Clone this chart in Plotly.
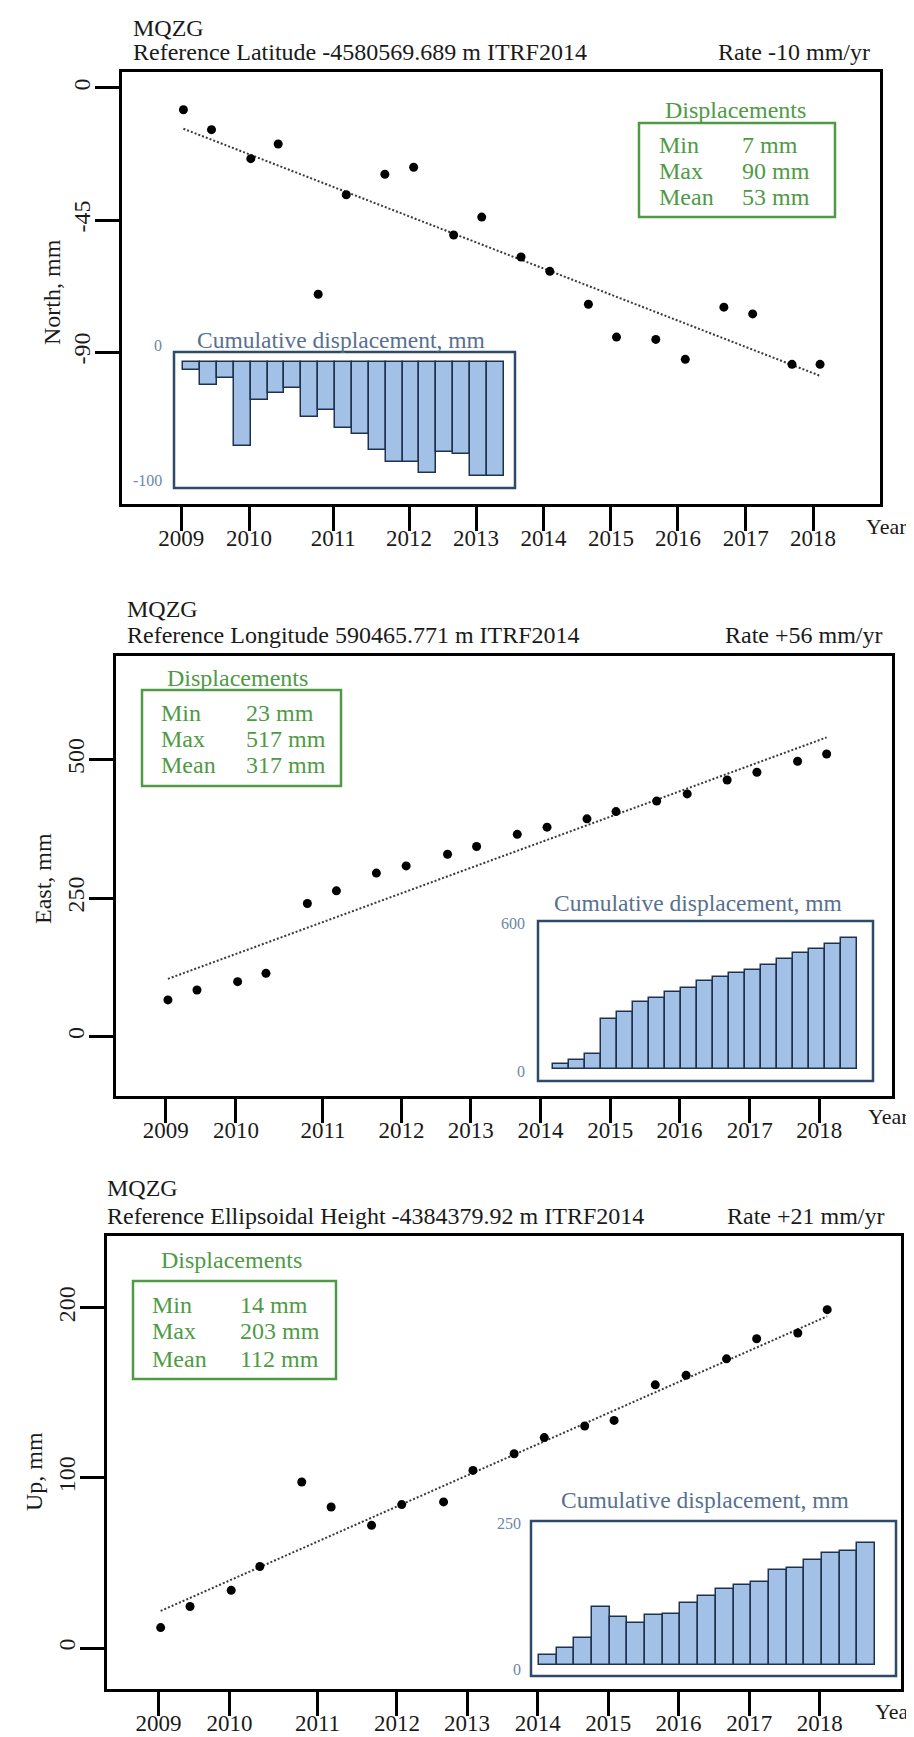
import plotly.graph_objects as go

W, H = 914, 1737
SERIF = "Liberation Serif, Times New Roman, serif"

# ---------------- data ----------------
station = "MQZG"
epochs = [2009.03, 2009.43, 2009.99, 2010.38, 2010.95, 2011.35, 2011.90, 2012.31,
          2012.88, 2013.28, 2013.84, 2014.25, 2014.80, 2015.20, 2015.76, 2016.18,
          2016.73, 2017.14, 2017.70, 2018.10]
tick_years = [2009.0, 2009.966, 2011.165, 2012.245, 2013.20, 2014.16, 2015.12,
              2016.075, 2017.04, 2018.0]
tick_labels = ["2009", "2010", "2011", "2012", "2013", "2014", "2015", "2016", "2017", "2018"]

north = [-7.4, -14.2, -24.1, -19.1, -70.3, -36.4, -29.4, -27.0, -50.1, -44.0,
         -57.6, -62.5, -73.7, -84.9, -85.7, -92.5, -74.7, -77.0, -94.2, -94.2]
east = [66, 84, 99, 114, 240, 263, 295, 308, 329, 343,
        365, 378, 393, 406, 425, 438, 463, 477, 497, 510]
up = [12.0, 24.4, 33.9, 47.9, 97.6, 82.9, 72.1, 84.3, 85.9, 104.4,
      114.2, 123.7, 130.5, 133.8, 154.7, 160.3, 170.0, 181.8, 185.2, 198.9]

trend_north = [-13.9, -98.1]
trend_east = [104, 540]
trend_up = [21.8, 195]

cum_north = [-6.7, -19.1, -13.4, -70.3, -31.7, -26.1, -21.8, -46.2, -40.1, -55.2,
             -60.1, -73.9, -84.2, -84.0, -93.3, -75.6, -77.3, -95.4, -95.4]
cum_east = [17, 35, 58, 203, 231, 272, 288, 311, 328, 356,
            372, 389, 400, 419, 446, 470, 484, 507, 528]
cum_up = [17, 29, 46, 101, 84, 72, 87, 89, 108, 120,
          132, 139, 144, 165, 170, 183, 196, 199, 213]
cum_index = list(range(1, 20))

stat_labels = ["Min", "Max", "Mean"]
stats_north = [7, 90, 53]
stats_east = [23, 517, 317]
stats_up = [14, 203, 112]

ref_text = ["Reference Latitude -4580569.689 m ITRF2014",
            "Reference Longitude 590465.771 m ITRF2014",
            "Reference Ellipsoidal Height -4384379.92 m ITRF2014"]
rate_text = ["Rate -10 mm/yr", "Rate +56 mm/yr", "Rate +21 mm/yr"]
axis_titles = ["North, mm", "East, mm", "Up, mm"]
main_ticks = [[0, -45, -90], [0, 250, 500], [0, 100, 200]]
inset_labels = [["0", "-100"], ["600", "0"], ["250", "0"]]

# ---------------- layout geometry (pixels) ----------------
def fx(x):
    return x / W

def fy(y):
    return 1 - y / H

panels = [
    dict(series=north, trend=trend_north, cum=cum_north, stats=stats_north,
         frame=(114, 872, 64, 496), xr=(2008.155, 2018.954), yr=(-141.8, 5.45),
         title_x=123, title_y=(20, 44), rate_x=864, ytitle=(44, 284),
         leg=dict(box=(631, 827, 115, 209), title=(727, 102), rows=(137, 163, 189), lx=649, vx=732),
         inset=dict(box=(166, 507, 344, 480), xr=(-0.051, 20.17), yr=(-105.9, 8.4),
                    title=(333, 332), lab_x=156, lab_y=(337, 473)),
         year=(878, 518)),
    dict(series=east, trend=trend_east, cum=cum_east, stats=stats_east,
         frame=(108, 884, 648, 1088), xr=(2008.315, 2019.0), yr=(-107.5, 687),
         title_x=117, title_y=(601, 627), rate_x=877, ytitle=(35, 871),
         leg=dict(box=(134, 333, 682, 778), title=(230, 670), rows=(705, 731, 757), lx=151, vx=236),
         inset=dict(box=(530, 865, 913, 1073), xr=(-0.4375, 20.5), yr=(-50.3, 598.7),
                    title=(690, 895), lab_x=519, lab_y=(915, 1063)),
         year=(880, 1108)),
    dict(series=up, trend=trend_up, cum=cum_up, stats=stats_up,
         frame=(99, 893, 1228, 1681), xr=(2008.300, 2019.104), yr=(-24.1, 242.2),
         title_x=97, title_y=(1180, 1208), rate_x=879, ytitle=(26, 1464),
         leg=dict(box=(125, 328, 1273, 1371), title=(223, 1252), rows=(1297, 1323, 1351), lx=142, vx=230),
         inset=dict(box=(523, 888, 1513, 1668), xr=(0.047, 20.69), yr=(-20.1, 251.7),
                    title=(697, 1492), lab_x=515, lab_y=(1515, 1661)),
         year=(887, 1703)),
]

GREEN = "#4f9a45"
INSET_TXT = "#57708f"
INSET_BOX = "#2d4a6a"
BAR_FILL = "#a3c1e6"
BAR_LINE = "#1e324e"

fig = go.Figure()
layout = dict(width=W, height=H, margin=dict(l=0, r=0, t=0, b=0),
              paper_bgcolor="white", plot_bgcolor="white", showlegend=False,
              bargap=0, font=dict(family=SERIF, size=24, color="#1a1a1a"))
annotations = []
shapes = []

for i, p in enumerate(panels):
    mx, my = 2 * i + 1, 2 * i + 1
    ix, iy = 2 * i + 2, 2 * i + 2
    mxs = "x" if mx == 1 else f"x{mx}"
    mys = "y" if my == 1 else f"y{my}"
    ixs, iys = f"x{ix}", f"y{iy}"

    # main scatter + trend
    fig.add_trace(go.Scatter(x=[epochs[0], epochs[-1]], y=p["trend"], mode="lines",
                             line=dict(color="#3a3a3a", width=2, dash="2px,2px"),
                             xaxis=mxs, yaxis=mys, hoverinfo="skip"))
    fig.add_trace(go.Scatter(x=epochs, y=p["series"], mode="markers",
                             marker=dict(color="black", size=9),
                             xaxis=mxs, yaxis=mys))
    # inset bars
    fig.add_trace(go.Bar(x=cum_index, y=p["cum"], width=1,
                         marker=dict(color=BAR_FILL, line=dict(color=BAR_LINE, width=1.5)),
                         xaxis=ixs, yaxis=iys))

    l, r, t, b = p["frame"]
    layout[f"xaxis{'' if mx == 1 else mx}"] = dict(
        domain=[fx(l), fx(r)], range=list(p["xr"]), anchor=mys,
        tickmode="array", tickvals=tick_years, ticktext=tick_labels,
        ticks="outside", ticklen=24, tickwidth=3, tickcolor="black",
        ticklabelstandoff=-13,
        showline=True, mirror=True, linewidth=3, linecolor="black",
        showgrid=False, zeroline=False,
        tickfont=dict(family=SERIF, size=23, color="#1a1a1a"))
    layout[f"yaxis{'' if my == 1 else my}"] = dict(
        domain=[fy(b), fy(t)], range=list(p["yr"]), anchor=mxs,
        tickmode="array", tickvals=main_ticks[i], ticktext=[str(v) for v in main_ticks[i]],
        tickangle=-90,
        ticks="outside", ticklen=24, tickwidth=3, tickcolor="black",
        ticklabelstandoff=-5,
        showline=True, mirror=True, linewidth=3, linecolor="black",
        showgrid=False, zeroline=False,
        tickfont=dict(family=SERIF, size=24, color="#1a1a1a"))

    ins = p["inset"]
    il, ir, it, ib = ins["box"]
    layout[f"xaxis{ix}"] = dict(domain=[fx(il), fx(ir)], range=list(ins["xr"]), anchor=iys,
                                visible=False, fixedrange=True)
    layout[f"yaxis{iy}"] = dict(domain=[fy(ib), fy(it)], range=list(ins["yr"]), anchor=ixs,
                                visible=False, fixedrange=True)
    shapes.append(dict(type="rect", xref="paper", yref="paper",
                       x0=fx(il), x1=fx(ir), y0=fy(ib), y1=fy(it),
                       fillcolor="#f7fafd", line=dict(width=0), layer="below"))
    shapes.append(dict(type="rect", xref="paper", yref="paper",
                       x0=fx(il), x1=fx(ir), y0=fy(ib), y1=fy(it),
                       line=dict(color=INSET_BOX, width=2.5), layer="above"))
    annotations.append(dict(text="Cumulative displacement, mm", x=fx(ins["title"][0]), y=fy(ins["title"][1]),
                            xref="paper", yref="paper", xanchor="center", yanchor="middle", showarrow=False,
                            font=dict(family=SERIF, size=23.5, color=INSET_TXT)))
    for lab, yy in zip(inset_labels[i], ins["lab_y"]):
        annotations.append(dict(text=lab, x=fx(ins["lab_x"]), y=fy(yy), xref="paper", yref="paper",
                                xanchor="right", yanchor="middle", showarrow=False,
                                font=dict(family=SERIF, size=16, color="#6d86a6")))

    # headers
    annotations.append(dict(text=station, x=fx(p["title_x"]), y=fy(p["title_y"][0]), xref="paper", yref="paper",
                            xanchor="left", yanchor="middle", showarrow=False, font=dict(size=24)))
    annotations.append(dict(text=ref_text[i], x=fx(p["title_x"]), y=fy(p["title_y"][1]), xref="paper", yref="paper",
                            xanchor="left", yanchor="middle", showarrow=False, font=dict(size=24)))
    annotations.append(dict(text=rate_text[i], x=fx(p["rate_x"]), y=fy(p["title_y"][1]), xref="paper", yref="paper",
                            xanchor="right", yanchor="middle", showarrow=False, font=dict(size=24)))
    # y title
    annotations.append(dict(text=axis_titles[i], x=fx(p["ytitle"][0]), y=fy(p["ytitle"][1]), xref="paper", yref="paper",
                            xanchor="center", yanchor="middle", textangle=-90, showarrow=False, font=dict(size=24)))
    # Year label
    annotations.append(dict(text="Year", x=fx(p["year"][0]), y=fy(p["year"][1]), xref="paper", yref="paper",
                            xanchor="center", yanchor="middle", showarrow=False, font=dict(size=22)))

    # displacement stats box
    lg = p["leg"]
    bl, br, bt, bb = lg["box"]
    shapes.append(dict(type="rect", xref="paper", yref="paper", x0=fx(bl), x1=fx(br), y0=fy(bb), y1=fy(bt),
                       line=dict(color=GREEN, width=2.5)))
    annotations.append(dict(text="Displacements", x=fx(lg["title"][0]), y=fy(lg["title"][1]), xref="paper", yref="paper",
                            xanchor="center", yanchor="middle", showarrow=False,
                            font=dict(family=SERIF, size=24, color=GREEN)))
    for lab, val, yy in zip(stat_labels, p["stats"], lg["rows"]):
        annotations.append(dict(text=lab, x=fx(lg["lx"]), y=fy(yy), xref="paper", yref="paper",
                                xanchor="left", yanchor="middle", showarrow=False,
                                font=dict(family=SERIF, size=24, color=GREEN)))
        annotations.append(dict(text=f"{val} mm", x=fx(lg["vx"]), y=fy(yy), xref="paper", yref="paper",
                                xanchor="left", yanchor="middle", showarrow=False,
                                font=dict(family=SERIF, size=24, color=GREEN)))

layout["annotations"] = annotations
layout["shapes"] = shapes
fig.update_layout(**layout)
fig.write_html("out.html")
